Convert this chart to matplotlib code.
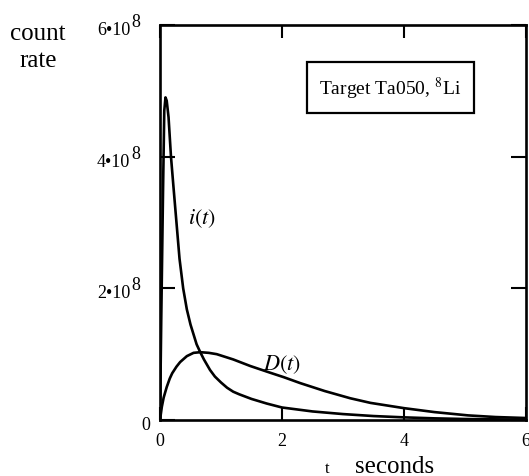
import matplotlib
matplotlib.use("Agg")
import matplotlib.pyplot as plt
import matplotlib.transforms as mtransforms

plt.rcParams["font.family"] = ["Liberation Serif", "DejaVu Serif"]
plt.rcParams["mathtext.fontset"] = "stix"

# Count rates in units of 1e8 per second
t_i = [0.0, 0.02, 0.05, 0.07, 0.09, 0.11, 0.14, 0.18, 0.22, 0.27, 0.32, 0.38,
       0.44, 0.5, 0.55, 0.6, 0.66, 0.72, 0.82, 0.9, 1.0, 1.1, 1.2, 1.3, 1.5,
       1.75, 2.0, 2.5, 3.0, 3.5, 4.0, 4.5, 5.0, 5.5, 6.0]
i_vals = [0.0, 1.5, 3.5, 4.7, 4.9, 4.85, 4.6, 4.0, 3.55, 3.0, 2.45, 2.0,
          1.68, 1.45, 1.3, 1.15, 1.03, 0.92, 0.76, 0.66, 0.57, 0.49, 0.43, 0.39, 0.32,
          0.25, 0.19, 0.13, 0.09, 0.06, 0.04, 0.025, 0.015, 0.01, 0.005]

t_D = [0.0, 0.03, 0.06, 0.11, 0.16, 0.2, 0.27, 0.33, 0.44, 0.55, 0.66, 0.8,
       0.93, 1.2, 1.48, 1.8, 2.03, 2.3, 2.7, 3.12, 3.45, 4.0, 4.5, 5.05, 5.5, 6.0]
D_vals = [0.0, 0.2, 0.34, 0.5, 0.63, 0.71, 0.81, 0.88, 0.97, 1.02, 1.03, 1.02,
          1.0, 0.92, 0.82, 0.72, 0.65, 0.56, 0.44, 0.33, 0.26, 0.18, 0.12, 0.07,
          0.045, 0.03]

x_ticks = [0, 2, 4, 6]
x_tick_labels = ["0", "2", "4", "6"]
y_ticks = [0, 2, 4, 6]
y_tick_mantissa = ["0", "2•10", "4•10", "6•10"]
y_tick_exponent = ["", "8", "8", "8"]

W, H = 529, 477
fig = plt.figure(figsize=(W / 100, H / 100), dpi=100)
ax = fig.add_axes([160 / W, 1 - 421 / H, 366 / W, 395 / H])

scale = 1e8
ax.plot(t_i, [v * scale for v in i_vals], color="black", lw=1.9,
        solid_joinstyle="round")
ax.plot(t_D, [v * scale for v in D_vals], color="black", lw=1.9,
        solid_joinstyle="round")

ax.set_xlim(0, 6)
ax.set_ylim(0, 6 * scale)
for s in ax.spines.values():
    s.set_linewidth(1.9)

ax.set_xticks(x_ticks)
ax.set_xticklabels(x_tick_labels, fontsize=13)
ax.set_yticks([v * scale for v in y_ticks])
ax.set_yticklabels([])
ax.tick_params(axis="both", direction="in", length=10.5, width=1.5,
               top=True, right=True, pad=9)
ax.tick_params(axis="x", length=9.5)

# y tick labels: mantissa plus raised exponent
trans = mtransforms.blended_transform_factory(ax.transAxes, ax.transData)
for v, m, e in zip(y_ticks, y_tick_mantissa, y_tick_exponent):
    if e:
        base = mtransforms.offset_copy(trans, fig=fig, x=-30 * 0.72, y=-9 * 0.72, units="points")
        ax.text(0, v * scale, m, transform=base, ha="right", va="baseline", fontsize=13)
        sup = mtransforms.offset_copy(trans, fig=fig, x=-29 * 0.72, y=-1 * 0.72, units="points")
        ax.text(0, v * scale, e, transform=sup, ha="left", va="baseline", fontsize=13)
    else:
        base = mtransforms.offset_copy(trans, fig=fig, x=-10 * 0.72, y=-9 * 0.72, units="points")
        ax.text(0, v * scale, m, transform=base, ha="right", va="baseline", fontsize=13)

# Curve labels
ax.text(0.69, 3.08 * scale, r"$i(t)$", fontsize=16, ha="center", va="center")
ax.text(2.0, 0.85 * scale, r"$D(t)$", fontsize=16, ha="center", va="center")

# Title box
ax.text(3.78, 5.05 * scale, r"Target Ta050, $^{8}$Li", fontsize=14,
        ha="center", va="center",
        bbox=dict(boxstyle="square,pad=0.62", fc="white", ec="black", lw=1.6))

# Axis titles
fig.text(38 / W, 1 - 40 / H, "count", fontsize=18, ha="center", va="baseline")
fig.text(38 / W, 1 - 67 / H, "rate", fontsize=18, ha="center", va="baseline")
fig.text(327 / W, 1 - 473 / H, "t", fontsize=12, ha="center", va="baseline")
fig.text(395 / W, 1 - 473 / H, "seconds", fontsize=18, ha="center", va="baseline")

fig.savefig("out.png", dpi=100)
